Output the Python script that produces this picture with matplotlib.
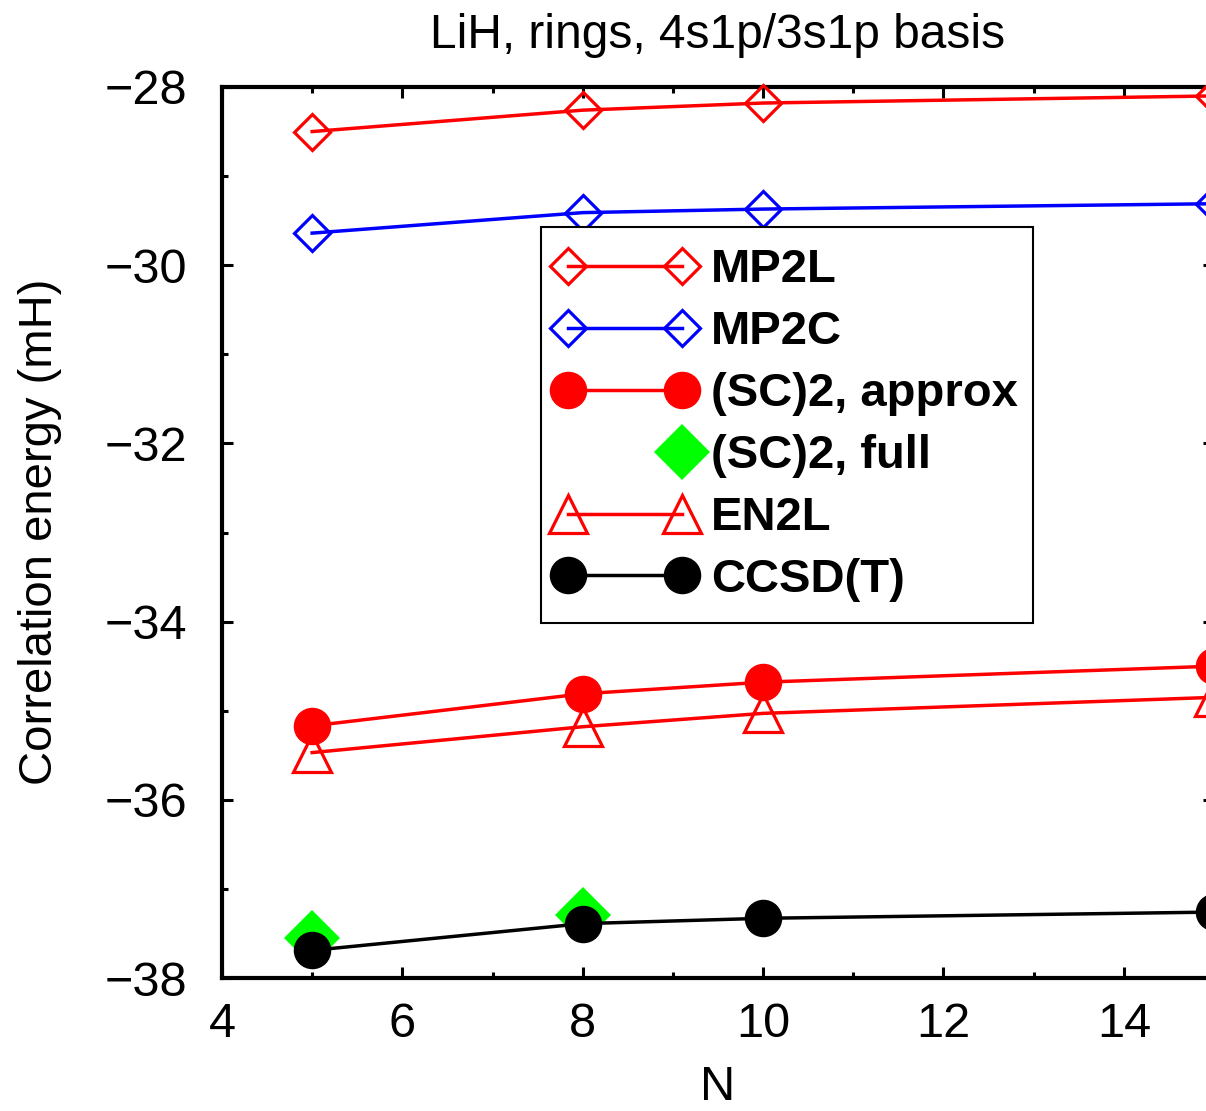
import matplotlib
matplotlib.use("Agg")
import matplotlib.pyplot as plt
from matplotlib.legend_handler import HandlerLine2D
import numpy as np

N = [5, 8, 10, 15]
N_full = [5, 8]
mp2l = [-28.50, -28.26, -28.18, -28.10]
mp2c = [-29.64, -29.41, -29.37, -29.31]
sc2_approx = [-35.17, -34.81, -34.68, -34.50]
sc2_full = [-37.55, -37.29]
en2l = [-35.47, -35.18, -35.03, -34.85]
ccsdt = [-37.69, -37.39, -37.33, -37.26]

title = "LiH, rings, 4s1p/3s1p basis"
xlabel = "N"
ylabel = "Correlation energy (mH)"
labels = ["MP2L", "MP2C", "(SC)2, approx", "(SC)2, full", "EN2L", "CCSD(T)"]

plt.rcParams['font.family'] = ['Liberation Sans', 'DejaVu Sans']

W, H = 1206, 1111
fig = plt.figure(figsize=(W / 100, H / 100), dpi=100)
L, R, T, B = 222, 1214, 87, 978
ax = fig.add_axes([L / W, 1 - B / H, (R - L) / W, (B - T) / H])

red, blue, green, black = '#ff0000', '#0000ff', '#00ff00', '#000000'
lw = 2.5
h1, = ax.plot(N, mp2l, color=red, lw=lw, marker='D', ms=18, mfc='none', mec=red, mew=2.3, clip_on=False, zorder=3)
h2, = ax.plot(N, mp2c, color=blue, lw=lw, marker='D', ms=18, mfc='none', mec=blue, mew=2.3, clip_on=False, zorder=3)
h3, = ax.plot(N, sc2_approx, color=red, lw=lw, marker='o', ms=26, mfc=red, mec=red, clip_on=False, zorder=4)
h4, = ax.plot(N_full, sc2_full, ls='none', marker='D', ms=29, mfc=green, mec=green, mew=0, clip_on=False, zorder=3)
h5, = ax.plot(N, en2l, color=red, lw=lw, marker='^', ms=27, mfc='none', mec=red, mew=2.3, clip_on=False, zorder=3)
h6, = ax.plot(N, ccsdt, color=black, lw=lw, marker='o', ms=26, mfc=black, mec=black, clip_on=False, zorder=4)

ax.set_xlim(4, 15)
ax.set_ylim(-38, -28)
ax.set_xticks([4, 6, 8, 10, 12, 14])
ax.set_xticks(np.arange(4, 16, 1), minor=True)
ax.set_yticks(np.arange(-38, -27, 2))
ax.set_yticks(np.arange(-38, -27, 1), minor=True)
ax.set_xticklabels([str(v) for v in [4, 6, 8, 10, 12, 14]])
ax.set_yticklabels(['\u2212' + str(abs(v)) for v in range(-38, -27, 2)])
ax.tick_params(which='both', direction='in', top=True, right=True, width=2.2, labelsize=35)
ax.tick_params(which='major', length=8)
ax.tick_params(which='minor', length=4.5)
ax.tick_params(axis='y', pad=25)
ax.tick_params(axis='x', pad=17)
for s in ax.spines.values():
    s.set_linewidth(3)

fig.text(718 / W, 1 - 48 / H, title, ha='center', va='baseline', fontsize=34.5)
fig.text(718 / W, 0.5 / H, xlabel, ha='center', va='bottom', fontsize=35)
fig.text(40 / W, 1 - 532 / H, ylabel, ha='center', va='center', rotation=90, fontsize=34)


class HandlerRightOnly(HandlerLine2D):
    def create_artists(self, *args, **kwargs):
        arts = super().create_artists(*args, **kwargs)
        for a in arts:
            if a.get_marker() not in (None, 'None', 'none', ''):
                a.set_markevery([1])
        return arts


fs_leg = 34
mpad = 0.12
hmap = {h: HandlerLine2D(marker_pad=mpad) for h in (h1, h2, h3, h5, h6)}
hmap[h4] = HandlerRightOnly(marker_pad=mpad)
top_leg = 1 - 227 / H
leg = ax.legend([h1, h2, h3, h4, h5, h6], labels,
                loc='upper left',
                bbox_to_anchor=(541 / W, top_leg, (1033 - 541) / W, 0),
                bbox_transform=fig.transFigure, mode='expand',
                numpoints=2, prop={'weight': 'bold', 'size': fs_leg},
                handlelength=2.655, handletextpad=0.5,
                borderpad=0.45, labelspacing=0.38, borderaxespad=0,
                fancybox=False, framealpha=1, edgecolor='black',
                handler_map=hmap)
leg.get_frame().set_linewidth(1.5)

fig.savefig('out.png', dpi=100)
